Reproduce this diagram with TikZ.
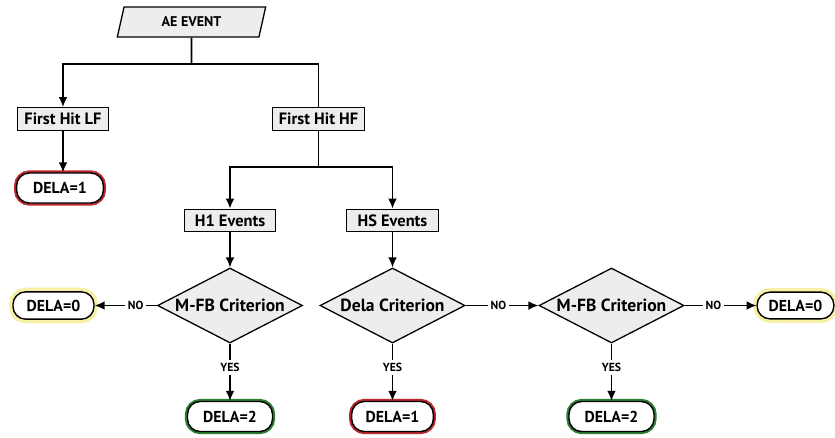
\documentclass[tikz,border=0pt]{standalone}
\usepackage{fontspec}
\setmainfont{PT Sans}
\usetikzlibrary{shapes.geometric,arrows.meta,positioning}
\definecolor{boxgray}{HTML}{EDEDED}
\definecolor{endred}{HTML}{B8282E}
\definecolor{endgreen}{HTML}{2E7D32}
\definecolor{endyellow}{HTML}{F6F1A6}
\begin{document}
\begin{tikzpicture}[
    x=0.03cm, y=-0.03cm,
    >={Latex[length=8.5pt,width=7.5pt]},
    line/.style={line width=1.3pt},
    block/.style={
        draw,
        rectangle,
        fill=boxgray,
        line width=1.1pt,
        minimum height=0.68cm,
        minimum width=2.75cm,
        inner sep=0pt,
        font=\bfseries\fontsize{14}{16}\selectfont
    },
    event/.style={
        draw,
        trapezium,
        trapezium left angle=56,
        trapezium right angle=124,
        trapezium stretches body,
        fill=boxgray,
        line width=1.1pt,
        minimum width=4.45cm,
        minimum height=0.9cm,
        inner sep=0pt,
        font=\bfseries\fontsize{12}{14}\selectfont
    },
    decision/.style={
        draw,
        diamond,
        aspect=1.93,
        fill=boxgray,
        line width=1.1pt,
        minimum width=4.35cm,
        minimum height=2.25cm,
        inner sep=0pt,
        font=\bfseries\fontsize{15}{17}\selectfont
    },
    terminal/.style={
        draw,
        rectangle,
        rounded corners=0.38cm,
        fill=white,
        line width=1.2pt,
        minimum height=0.9cm,
        minimum width=2.55cm,
        inner sep=0pt,
        font=\bfseries\fontsize{13.5}{15}\selectfont,
        preaction={draw=#1, line width=4.5pt}
    },
    answer/.style={fill=white, inner sep=2.5pt, font=\bfseries\fontsize{10}{11}\selectfont}
]
\useasboundingbox (0,0) rectangle (835,437);

% Nodes
\node [event] (ae) at (191.5,22) {AE EVENT};
\node [block] (lf) at (63,119) {First Hit LF};
\node [block] (hf) at (318.5,119) {First Hit HF};
\node [terminal=endred, minimum width=2.6cm] (dlf) at (60,188) {DELA=1};
\node [block] (h1) at (230,220.5) {H1 Events};
\node [block] (hs) at (392.5,220.5) {HS Events};
\node [decision] (mfbone) at (230,305.5) {M-FB Criterion};
\node [decision] (dela) at (392.5,305.5) {Dela Criterion};
\node [decision] (mfbtwo) at (611.5,305.5) {M-FB Criterion};
\node [terminal=endyellow, preaction={draw=endyellow, line width=7pt}, minimum width=2.43cm, minimum height=0.82cm] (dzeroa) at (53.5,305.5) {DELA=0};
\node [terminal=endyellow, preaction={draw=endyellow, line width=7pt}, minimum width=2.3cm, minimum height=0.8cm] (dzerob) at (795.5,305.5) {DELA=0};
\node [terminal=endgreen] (dtwoa) at (230,416.5) {DELA=2};
\node [terminal=endred, minimum width=2.45cm] (done) at (392.5,416.5) {DELA=1};
\node [terminal=endgreen] (dtwob) at (611.5,416.5) {DELA=2};
\coordinate (top) at (191.5,64);
\coordinate (mid) at (318.5,167);

% Arrows and labels
\draw [line] (ae.south) -- (top);
\draw [line, ->] (top) -| (lf.north);
\draw [line] (top) -| (hf.north);
\draw [line, ->] (lf.south) -- (lf.south |- dlf.north);
\draw [line] (hf.south) -- (mid);
\draw [line, ->] (mid) -| (h1.north);
\draw [line, ->] (mid) -| (hs.north);
\draw [line, ->] (h1) -- (mfbone);
\draw [line, ->] (hs) -- (dela);
\draw [line, ->] (mfbone) -- node[answer, pos=0.34] {NO} (dzeroa);
\draw [line, ->] (mfbone) -- node[answer, pos=0.42] {YES} (dtwoa);
\draw [line, ->] (dela) -- node[answer, pos=0.42] {YES} (done);
\draw [line, ->] (dela) -- node[answer, pos=0.45] {NO} (mfbtwo);
\draw [line, ->] (mfbtwo) -- node[answer, pos=0.42] {YES} (dtwob);
\draw [line, ->] (mfbtwo) -- node[answer, pos=0.4] {NO} (dzerob);

\end{tikzpicture}
\end{document}
